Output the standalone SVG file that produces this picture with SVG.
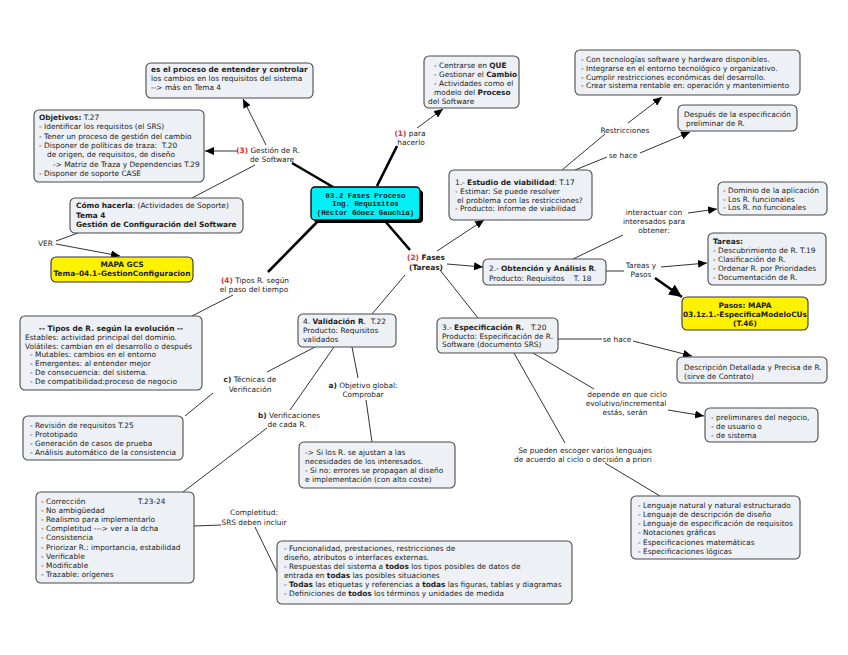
<svg xmlns="http://www.w3.org/2000/svg" width="848" height="655" viewBox="0 0 848 655">
<style>
.bx{fill:#edf1f5;stroke:#4a4a4a;stroke-width:1.1}
.yl{fill:#fff200;stroke:#333;stroke-width:1.1}
.t{font-family:"DejaVu Sans",Verdana,sans-serif;font-size:7.4px;fill:#222}
.b{font-weight:bold}
.r{fill:#e03030;font-weight:bold}
.c{text-anchor:middle}
.m{font-family:"Liberation Mono","Courier New",monospace;font-weight:bold;font-size:7.4px;fill:#222}
.ln{stroke:#333;stroke-width:1;fill:none}
.tk{stroke:#000;stroke-width:2.6;fill:none}
.ar{marker-end:url(#ah)}
.art{marker-end:url(#ahb)}
</style>
<defs>
<marker id="ah" markerUnits="userSpaceOnUse" markerWidth="10" markerHeight="8" refX="9" refY="4" orient="auto"><path d="M0,0L9,4L0,8z" fill="#000"/></marker>
<marker id="ahb" markerUnits="userSpaceOnUse" markerWidth="14" markerHeight="12" refX="13" refY="6" orient="auto"><path d="M0,0L13,6L0,12z" fill="#000"/></marker>
</defs>
<rect width="848" height="655" fill="#fff"/>
<g id="connectors">
<path class="tk" d="M333,187L292,163"/>
<path class="ln ar" d="M266,145L243,99"/>
<path class="ln ar" d="M238,151L205,151"/>
<path class="ln" d="M255,165L192,198"/>
<path class="ln" d="M78,233L56,241"/>
<path class="ln ar" d="M56,244L120,256"/>
<path class="tk" d="M320,219L268,272"/>
<path class="ln" d="M233,295L192,316"/>
<path class="tk" d="M377,186L397,146"/>
<path class="ln ar" d="M417,128L443,109"/>
<path class="tk" d="M385,221L410,250"/>
<path class="ln ar" d="M437,251L484,220"/>
<path class="ln ar" d="M447,264L483,267"/>
<path class="ln" d="M440,270L478,318"/>
<path class="ln" d="M405,275L372,314"/>
<path class="ln" d="M562,170L605,134"/>
<path class="ln ar" d="M628,123L662,97"/>
<path class="ln" d="M575,170L607,157"/>
<path class="ln ar" d="M640,153L690,132"/>
<path class="ln" d="M573,259L623,235"/>
<path class="ln ar" d="M688,213L717,209"/>
<path class="ln" d="M606,271L624,271"/>
<path class="ln ar" d="M661,267L707,263"/>
<path class="tk art" d="M655,278L682,297"/>
<path class="ln" d="M558,339L602,339"/>
<path class="ln ar" d="M633,341L692,356"/>
<path class="ln" d="M533,353L594,389"/>
<path class="ln ar" d="M668,410L704,416"/>
<path class="ln" d="M514,353L565,443"/>
<path class="ln" d="M605,463L660,496"/>
<path class="ln" d="M315,347L267,372"/>
<path class="ln" d="M213,393L185,416"/>
<path class="ln" d="M334,347L290,410"/>
<path class="ln" d="M267,428L183,492"/>
<path class="ln" d="M352,347L358,378"/>
<path class="ln" d="M366,400L372,442"/>
<path class="ln" d="M194,526L221,525"/>
<path class="ln" d="M255,527L277,572"/>
</g>
<g id="n_center">
<rect x="314" y="190" width="109" height="33" rx="4" fill="#000"/>
<rect x="311" y="187" width="109" height="33" rx="4" fill="#00f0f5" stroke="#000" stroke-width="1.3"/>
<text class="m c"><tspan x="365.5" y="197.5">03.2 Fases Proceso</tspan><tspan x="365.5" y="206">Ing. Requisitos</tspan><tspan x="365.5" y="214.5">(Héctor Gómez Gauchía)</tspan></text>
</g>
<g id="n_proceso">
<rect class="bx" x="146" y="63" width="167" height="35" rx="5"/>
<text class="t"><tspan x="151" y="72" class="b">es el proceso de entender y controlar</tspan><tspan x="151" y="81">los cambios en los requisitos del sistema</tspan><tspan x="151" y="90">--&gt; más en Tema 4</tspan></text>
</g>
<g id="n_objetivos">
<rect class="bx" x="34" y="110" width="170" height="72" rx="5"/>
<text class="t"><tspan x="39" y="120"><tspan class="b">Objetivos:</tspan> T.27</tspan><tspan x="39" y="129.3">- Identificar los requisitos (el SRS)</tspan><tspan x="39" y="138.6">- Tener un proceso de gestión del cambio</tspan><tspan x="39" y="147.9">- Disponer de políticas de traza:&#160; T.20</tspan><tspan x="47" y="157.2">de origen, de requisitos, de diseño</tspan><tspan x="53" y="166.5">-&gt; Matriz de Traza y Dependencias T.29</tspan><tspan x="39" y="175.8">- Disponer de soporte CASE</tspan></text>
</g>
<g id="l_gestion">
<text class="t c"><tspan x="268" y="153"><tspan class="r">(3)</tspan> Gestión de R.</tspan><tspan x="272" y="162">de Software</tspan></text>
</g>
<g id="n_como">
<rect class="bx" x="70" y="198" width="173" height="35" rx="5"/>
<text class="t"><tspan x="76" y="208"><tspan class="b">Cómo hacerla</tspan>: (Actividades de Soporte)</tspan><tspan x="76" y="217.5" class="b">Tema 4</tspan><tspan x="76" y="227" class="b">Gestión de Configuración del Software</tspan></text>
</g>
<g id="l_ver">
<text class="t"><tspan x="38" y="246">VER</tspan></text>
</g>
<g id="n_mapagcs">
<rect class="yl" x="51" y="257" width="142" height="25" rx="5"/>
<text class="t b c"><tspan x="122" y="266.5">MAPA GCS</tspan><tspan x="122" y="276">Tema–04.1–GestionConfiguracion</tspan></text>
</g>
<g id="l_tipos">
<text class="t c"><tspan x="255" y="283"><tspan class="r">(4)</tspan> Tipos R. según</tspan><tspan x="254" y="291.5">el paso del tiempo</tspan></text>
</g>
<g id="n_tipos">
<rect class="bx" x="20" y="316" width="182" height="74" rx="5"/>
<text class="t"><tspan x="111" y="331" class="b c">-- Tipos de R. según la evolución --</tspan><tspan x="25" y="340">Estables: actividad principal del dominio.</tspan><tspan x="25" y="348.5">Volátiles: cambian en el desarrollo o después</tspan><tspan x="30" y="357">- Mutables: cambios en el entorno</tspan><tspan x="30" y="366">- Emergentes: al entender mejor</tspan><tspan x="30" y="375">- De consecuencia: del sistema.</tspan><tspan x="30" y="384">- De compatibilidad:proceso de negocio</tspan></text>
</g>
<g id="l_para">
<text class="t c"><tspan x="410" y="136"><tspan class="r">(1)</tspan> para</tspan><tspan x="411" y="145">hacerlo</tspan></text>
</g>
<g id="n_centrarse">
<rect class="bx" x="424" y="56" width="95" height="52" rx="5"/>
<text class="t"><tspan x="434" y="68">- Centrarse en <tspan class="b">QUE</tspan></tspan><tspan x="434" y="77">- Gestionar el <tspan class="b">Cambio</tspan></tspan><tspan x="434" y="86">- Actividades como el</tspan><tspan x="434" y="95">modelo del <tspan class="b">Proceso</tspan></tspan><tspan x="428" y="104">del Software</tspan></text>
</g>
<g id="l_fases">
<text class="t c b"><tspan x="426" y="260"><tspan class="r">(2)</tspan> Fases</tspan><tspan x="426" y="270">(Tareas)</tspan></text>
</g>
<g id="n_estudio">
<rect class="bx" x="449" y="170" width="143" height="50" rx="5"/>
<text class="t"><tspan x="455" y="185">1.- <tspan class="b">Estudio de viabilidad</tspan>: T.17</tspan><tspan x="455" y="194">- Estimar: Se puede resolver</tspan><tspan x="457" y="202.5">el problema con las restricciones?</tspan><tspan x="455" y="211">- Producto: Informe de viabilidad</tspan></text>
</g>
<g id="l_restricciones">
<text class="t c"><tspan x="625" y="133">Restricciones</tspan></text>
</g>
<g id="l_sehace1">
<text class="t c"><tspan x="623" y="158">se hace</tspan></text>
</g>
<g id="n_constraints">
<rect class="bx" x="575" y="50" width="225" height="45" rx="5"/>
<text class="t"><tspan x="581" y="62">- Con tecnologías software y hardware disponibles.</tspan><tspan x="581" y="71">- Integrarse en el entorno tecnológico y organizativo.</tspan><tspan x="581" y="79.5">- Cumplir restricciones económicas del desarrollo.</tspan><tspan x="581" y="88">- Crear sistema rentable en: operación y mantenimiento</tspan></text>
</g>
<g id="n_despues">
<rect class="bx" x="678" y="105" width="119" height="26" rx="5"/>
<text class="t"><tspan x="684" y="117">Después de la especificación</tspan><tspan x="686" y="126">preliminar de R.</tspan></text>
</g>
<g id="n_obtencion">
<rect class="bx" x="483" y="259" width="123" height="26" rx="5"/>
<text class="t"><tspan x="489" y="271">2.- <tspan class="b">Obtención y Análisis R</tspan>.</tspan><tspan x="489" y="280.5">Producto: Requisitos&#160;&#160;&#160; T. 18</tspan></text>
</g>
<g id="l_interactuar">
<text class="t c"><tspan x="654" y="215">interactuar con</tspan><tspan x="654" y="224">interesados para</tspan><tspan x="654" y="233">obtener:</tspan></text>
</g>
<g id="n_dominio">
<rect class="bx" x="718" y="182" width="109" height="33" rx="5"/>
<text class="t"><tspan x="723" y="193">- Dominio de la aplicación</tspan><tspan x="723" y="201.5">- Los R. funcionales</tspan><tspan x="723" y="210">- Los R. no funcionales</tspan></text>
</g>
<g id="l_tareaspasos">
<text class="t c"><tspan x="641" y="268">Tareas y</tspan><tspan x="641" y="277">Pasos</tspan></text>
</g>
<g id="n_tareas">
<rect class="bx" x="708" y="233" width="118" height="52" rx="5"/>
<text class="t"><tspan x="713" y="244" class="b">Tareas:</tspan><tspan x="713" y="253">- Descubrimiento de R. T.19</tspan><tspan x="713" y="262">- Clasificación de R.</tspan><tspan x="713" y="271">- Ordenar R. por Prioridades</tspan><tspan x="713" y="280">- Documentación de R.</tspan></text>
</g>
<g id="n_pasos">
<rect class="yl" x="682" y="297" width="126" height="33" rx="5"/>
<text class="t b c"><tspan x="745" y="308">Pasos: MAPA</tspan><tspan x="745" y="317">03.1z.1.-EspecificaModeloCUs</tspan><tspan x="745" y="326">(T.46)</tspan></text>
</g>
<g id="n_especificacion">
<rect class="bx" x="437" y="318" width="121" height="35" rx="5"/>
<text class="t"><tspan x="442" y="330">3.- <tspan class="b">Especificación R.</tspan>&#160;&#160; T.20</tspan><tspan x="442" y="338.5">Producto: Especificación de R.</tspan><tspan x="442" y="347">Software (documento SRS)</tspan></text>
</g>
<g id="l_sehace2">
<text class="t c"><tspan x="617" y="342">se hace</tspan></text>
</g>
<g id="n_descripcion">
<rect class="bx" x="677" y="357" width="150" height="26" rx="5"/>
<text class="t"><tspan x="684" y="370">Descripción Detallada y Precisa de R.</tspan><tspan x="684" y="379">(sirve de Contrato)</tspan></text>
</g>
<g id="l_depende">
<text class="t c"><tspan x="627" y="397">depende en que ciclo</tspan><tspan x="626" y="406">evolutivo/incremental</tspan><tspan x="625" y="415">estás, serán</tspan></text>
</g>
<g id="n_preliminares">
<rect class="bx" x="705" y="408" width="113" height="34" rx="5"/>
<text class="t"><tspan x="711" y="420">- preliminares del negocio,</tspan><tspan x="711" y="429">- de usuario o</tspan><tspan x="711" y="438">- de sistema</tspan></text>
</g>
<g id="l_sepueden">
<text class="t c"><tspan x="585" y="453">Se pueden escoger varios lenguajes</tspan><tspan x="583" y="462">de acuerdo al ciclo o decisión a priori</tspan></text>
</g>
<g id="n_lenguaje">
<rect class="bx" x="631" y="496" width="169" height="63" rx="5"/>
<text class="t"><tspan x="638" y="508">- Lenguaje natural y natural estructurado</tspan><tspan x="638" y="517">- Lenguaje de descripción de diseño</tspan><tspan x="638" y="526">- Lenguaje de especificación de requisitos</tspan><tspan x="638" y="535">- Notaciones gráficas</tspan><tspan x="638" y="544.5">- Especificaciones matemáticas</tspan><tspan x="638" y="554">- Especificaciones lógicas</tspan></text>
</g>
<g id="n_validacion">
<rect class="bx" x="298" y="314" width="98" height="33" rx="5"/>
<text class="t"><tspan x="303" y="324">4. <tspan class="b">Validación R</tspan>.&#160; T.22</tspan><tspan x="303" y="333">Producto: Requisitos</tspan><tspan x="303" y="342">validados</tspan></text>
</g>
<g id="l_tecnicas">
<text class="t c"><tspan x="250" y="382"><tspan class="b">c)</tspan> Técnicas de</tspan><tspan x="250" y="392">Verificación</tspan></text>
</g>
<g id="n_revision">
<rect class="bx" x="23" y="416" width="160" height="44" rx="5"/>
<text class="t"><tspan x="30" y="428">- Revisión de requisitos T.25</tspan><tspan x="30" y="437">- Prototipado</tspan><tspan x="30" y="446">- Generación de casos de prueba</tspan><tspan x="30" y="455">- Análisis automático de la consistencia</tspan></text>
</g>
<g id="l_verificaciones">
<text class="t c"><tspan x="289" y="418"><tspan class="b">b)</tspan> Verificaciones</tspan><tspan x="287" y="427">de cada R.</tspan></text>
</g>
<g id="l_objetivo">
<text class="t c"><tspan x="363" y="388"><tspan class="b">a)</tspan> Objetivo global:</tspan><tspan x="363" y="397">Comprobar</tspan></text>
</g>
<g id="n_si">
<rect class="bx" x="299" y="442" width="156" height="46" rx="5"/>
<text class="t"><tspan x="305" y="455">-&gt; Si los R. se ajustan a las</tspan><tspan x="305" y="464">necesidades de los interesados.</tspan><tspan x="305" y="473">- Si no: errores se propagan al diseño</tspan><tspan x="305" y="482">e implementación (con alto coste)</tspan></text>
</g>
<g id="n_correccion">
<rect class="bx" x="36" y="492" width="158" height="91" rx="5"/>
<text class="t"><tspan x="41" y="504">- Corrección</tspan><tspan x="138" y="504">T.23-24</tspan><tspan x="41" y="513">- No ambigüedad</tspan><tspan x="41" y="522">- Realismo para implementarlo</tspan><tspan x="41" y="531">- Completitud ---&gt; ver a la dcha</tspan><tspan x="41" y="540">- Consistencia</tspan><tspan x="41" y="550">- Priorizar R.: importancia, estabilidad</tspan><tspan x="41" y="559">- Verificable</tspan><tspan x="41" y="568">- Modificable</tspan><tspan x="41" y="577">- Trazable: orígenes</tspan></text>
</g>
<g id="l_completitud">
<text class="t c"><tspan x="254" y="515">Completitud:</tspan><tspan x="254" y="525">SRS deben incluir</tspan></text>
</g>
<g id="n_funcionalidad">
<rect class="bx" x="277" y="541" width="295" height="63" rx="5"/>
<text class="t"><tspan x="284" y="551">- Funcionalidad, prestaciones, restricciones de</tspan><tspan x="284" y="560">diseño, atributos o interfaces externas.</tspan><tspan x="284" y="569">- Respuestas del sistema a <tspan class="b">todos</tspan> los tipos posibles de datos de</tspan><tspan x="284" y="578">entrada en <tspan class="b">todas</tspan> las posibles situaciones</tspan><tspan x="284" y="587">- <tspan class="b">Todas</tspan> las etiquetas y referencias a <tspan class="b">todas</tspan> las figuras, tablas y diagramas</tspan><tspan x="284" y="596">- Definiciones de <tspan class="b">todos</tspan> los términos y unidades de medida</tspan></text>
</g>
</svg>
